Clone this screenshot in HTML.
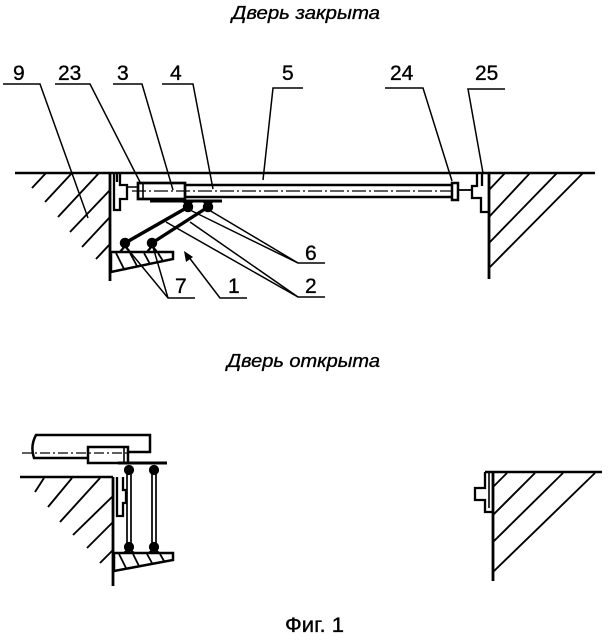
<!DOCTYPE html>
<html>
<head>
<meta charset="utf-8">
<style>
  html,body{margin:0;padding:0;background:#fff;}
  svg{display:block;}
  text{font-family:"Liberation Sans","DejaVu Sans",sans-serif;fill:#000;stroke:#000;stroke-width:0.35;}
</style>
</head>
<body>
<svg width="611" height="640" viewBox="0 0 611 640" xmlns="http://www.w3.org/2000/svg">
  <!-- Titles -->
  <text x="232" y="19" font-size="18" font-style="italic" textLength="148" lengthAdjust="spacingAndGlyphs">Дверь закрыта</text>
  <text x="227" y="367" font-size="18" font-style="italic" textLength="153" lengthAdjust="spacingAndGlyphs">Дверь открыта</text>
  <text x="285" y="632" font-size="21" textLength="59" lengthAdjust="spacingAndGlyphs">Фиг. 1</text>

  <!-- ================= TOP DRAWING (closed) ================= -->
  <g stroke="#000" fill="none" stroke-linecap="butt">
    <!-- floor -->
    <line x1="15" y1="173" x2="595" y2="173" stroke-width="2.6"/>
    <!-- left wall -->
    <line x1="110" y1="173" x2="110" y2="281" stroke-width="2.8"/>
    <!-- left hatching -->
    <g stroke-width="1.9">
      <line x1="32" y1="188" x2="46" y2="173"/>
      <line x1="45" y1="202" x2="72" y2="173"/>
      <line x1="58" y1="217" x2="99" y2="173"/>
      <line x1="70" y1="232" x2="110" y2="190"/>
      <line x1="82" y1="247" x2="110" y2="217"/>
      <line x1="96" y1="259" x2="110" y2="244"/>
    </g>
    <!-- left frame profile -->
    <g stroke-width="2.3">
      <polyline points="114,173 114,210 120,210 120,199 127,199 127,185 120,185 120,173"/>
      <line x1="117" y1="173" x2="117" y2="182"/>
    </g>
    <line x1="127" y1="187" x2="138" y2="187" stroke-width="1.5"/>
    <!-- carriage box 3 -->
    <rect x="138" y="183" width="47" height="16" stroke-width="2.7"/>
    <line x1="143" y1="183" x2="143" y2="199" stroke-width="1.6"/>
    <!-- door panel -->
    <line x1="185" y1="185" x2="452" y2="185" stroke-width="2.5"/>
    <line x1="185" y1="197" x2="452" y2="197" stroke-width="2.5"/>
    <line x1="132" y1="191" x2="452" y2="191" stroke-width="1.3" stroke-dasharray="14,3,2,3"/>
    <!-- plate under box -->
    <line x1="150" y1="201" x2="222" y2="201" stroke-width="3"/>
    <!-- arms -->
    <line x1="125" y1="243" x2="188" y2="207" stroke-width="3.4"/>
    <line x1="152" y1="243" x2="208" y2="207" stroke-width="3.4"/>
    <!-- upper hinges -->
    <path d="M183,201 L188,206 L193,201" stroke-width="2.2"/>
    <path d="M203,201 L208,206 L213,201" stroke-width="2.2"/>
    <circle cx="188" cy="207" r="4.5" fill="#000" stroke-width="1.5"/>
    <circle cx="208" cy="207" r="4.5" fill="#000" stroke-width="1.5"/>
    <!-- lower hinges -->
    <path d="M120,252 L125,246 L130,252" stroke-width="2.2"/>
    <path d="M147,252 L152,246 L157,252" stroke-width="2.2"/>
    <circle cx="125" cy="243" r="4.5" fill="#000" stroke-width="1.5"/>
    <circle cx="152" cy="243" r="4.5" fill="#000" stroke-width="1.5"/>
    <!-- bracket -->
    <polygon points="111,252 173,252 173,259 111,272" stroke-width="2.5"/>
    <g stroke-width="1.8">
      <line x1="116" y1="253" x2="124" y2="269"/>
      <line x1="130" y1="253" x2="137" y2="266"/>
      <line x1="144" y1="253" x2="150" y2="264"/>
      <line x1="158" y1="253" x2="163" y2="261"/>
    </g>
    <!-- end piece 24 -->
    <rect x="452" y="183" width="6" height="17" stroke-width="2.5"/>
    <line x1="458" y1="190" x2="473" y2="190" stroke-width="1.8"/>
    <!-- right frame profile 25 -->
    <g stroke-width="2.3">
      <polyline points="477,173 477,186 472,186 472,198 481,198 481,212 488,212"/>
      <line x1="482" y1="173" x2="482" y2="186"/>
    </g>
    <!-- right wall -->
    <line x1="489" y1="173" x2="489" y2="279" stroke-width="2.8"/>
    <!-- right hatching -->
    <g stroke-width="1.9">
      <line x1="489" y1="190" x2="505" y2="173"/>
      <line x1="489" y1="217" x2="530" y2="173"/>
      <line x1="489" y1="243" x2="557" y2="173"/>
      <line x1="489" y1="268" x2="583" y2="173"/>
    </g>

    <!-- leaders -->
    <g stroke-width="1.5">
      <polyline points="3,84 40,84 88,218"/>
      <polyline points="55,84 90,84 141,184"/>
      <polyline points="113,84 142,84 173,190"/>
      <polyline points="162,84 193,84 213,189"/>
      <polyline points="303,88 273,88 263,180"/>
      <polyline points="385,88 423,88 452,181"/>
      <polyline points="505,89 468,89 483,173"/>
      <!-- 6 -->
      <polyline points="325,263 298,263 190,210"/>
      <line x1="298" y1="263" x2="209" y2="210"/>
      <!-- 2 -->
      <polyline points="325,297 298,297 166,222"/>
      <line x1="298" y1="297" x2="190" y2="222"/>
      <!-- 7 -->
      <polyline points="195,298 168,298 126,247"/>
      <line x1="168" y1="298" x2="153" y2="247"/>
      <!-- 1 -->
      <polyline points="247,298 220,298 188,256"/>
    </g>
    <polygon points="184,251 186,262 193,257" fill="#000" stroke="none"/>
  </g>

  <!-- labels top -->
  <g font-size="21">
    <text x="13" y="80">9</text>
    <text x="58" y="80">23</text>
    <text x="117" y="80">3</text>
    <text x="170" y="80">4</text>
    <text x="282" y="80">5</text>
    <text x="390" y="80">24</text>
    <text x="475" y="80">25</text>
    <text x="305" y="260">6</text>
    <text x="305" y="293">2</text>
    <text x="175" y="293">7</text>
    <text x="228" y="293">1</text>
  </g>

  <!-- ================= BOTTOM DRAWING (open) ================= -->
  <g stroke="#000" fill="none">
    <!-- parked panel -->
    <path d="M88,458 L34,458 Q30,446 36,435 L150,435 L150,452 L128,452" stroke-width="2.5"/>
    <line x1="22" y1="453" x2="128" y2="453" stroke-width="1.3" stroke-dasharray="10,3,2,3"/>
    <!-- carriage box -->
    <rect x="88" y="447" width="40" height="16" stroke-width="2.5"/>
    <line x1="124" y1="447" x2="124" y2="463" stroke-width="1.6"/>
    <!-- plate -->
    <line x1="118" y1="463" x2="167" y2="463" stroke-width="3"/>
    <!-- rods -->
    <g stroke-width="1.7">
      <line x1="127" y1="472" x2="127" y2="544"/>
      <line x1="131" y1="472" x2="131" y2="544"/>
      <line x1="152" y1="472" x2="152" y2="544"/>
      <line x1="156" y1="472" x2="156" y2="544"/>
    </g>
    <circle cx="129" cy="470" r="4.5" fill="#000" stroke-width="1.2"/>
    <circle cx="154" cy="470" r="4.5" fill="#000" stroke-width="1.2"/>
    <circle cx="129" cy="547" r="4.5" fill="#000" stroke-width="1.2"/>
    <circle cx="154" cy="547" r="4.5" fill="#000" stroke-width="1.2"/>
    <path d="M124,553 L129,549 L134,553" stroke-width="2.2"/>
    <path d="M149,553 L154,549 L159,553" stroke-width="2.2"/>
    <!-- bracket -->
    <polygon points="114,553 173,553 173,560 114,571" stroke-width="2.5"/>
    <g stroke-width="1.8">
      <line x1="119" y1="554" x2="126" y2="568"/>
      <line x1="133" y1="554" x2="139" y2="566"/>
      <line x1="147" y1="554" x2="152" y2="563"/>
      <line x1="160" y1="554" x2="164" y2="561"/>
    </g>
    <!-- floor + wall -->
    <line x1="20" y1="477" x2="113" y2="477" stroke-width="2.6"/>
    <line x1="113" y1="477" x2="113" y2="586" stroke-width="2.8"/>
    <g stroke-width="1.9">
      <line x1="35" y1="492" x2="44" y2="478"/>
      <line x1="48" y1="507" x2="72" y2="478"/>
      <line x1="60" y1="522" x2="100" y2="478"/>
      <line x1="73" y1="535" x2="113" y2="496"/>
      <line x1="87" y1="548" x2="113" y2="522"/>
      <line x1="100" y1="563" x2="113" y2="550"/>
    </g>
    <!-- left frame profile -->
    <g stroke-width="2.3">
      <polyline points="117,477 117,516 123,516 123,503 126,503 126,490 123,490 123,477"/>
    </g>

    <!-- right part -->
    <line x1="485" y1="472" x2="602" y2="472" stroke-width="2.6"/>
    <line x1="493" y1="472" x2="493" y2="581" stroke-width="2.8"/>
    <polyline points="485,472 485,488 475,488 475,500 485,500 485,512 493,512" stroke-width="2.3"/>
    <line x1="489" y1="472" x2="489" y2="508" stroke-width="1.6"/>
    <g stroke-width="1.9">
      <line x1="493" y1="487" x2="507" y2="473"/>
      <line x1="493" y1="515" x2="535" y2="473"/>
      <line x1="493" y1="542" x2="563" y2="473"/>
      <line x1="493" y1="572" x2="595" y2="473"/>
    </g>
  </g>
</svg>
</body>
</html>
